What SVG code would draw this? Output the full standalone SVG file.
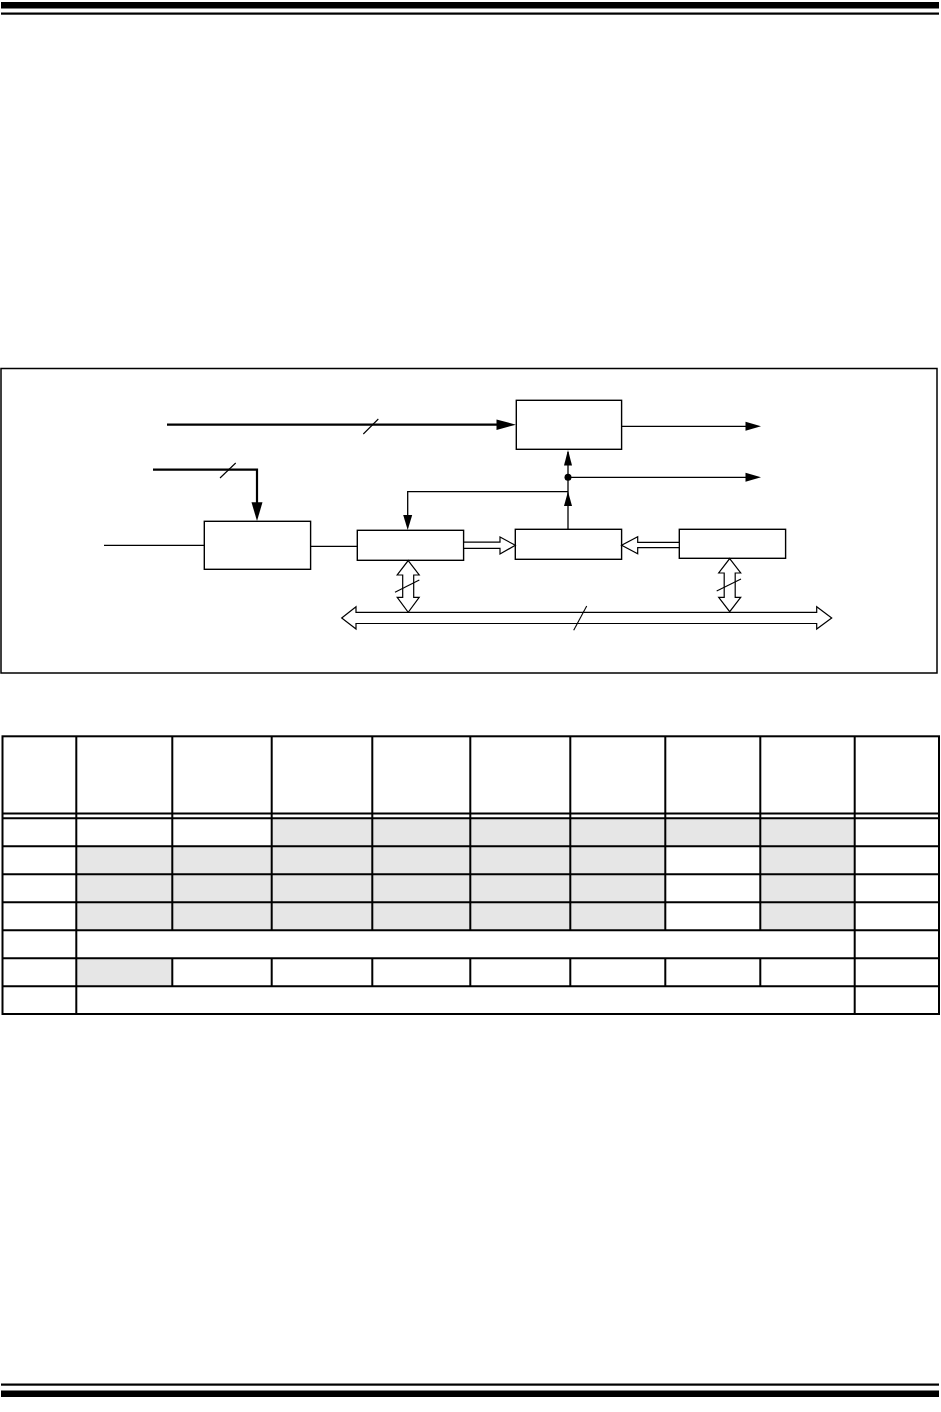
<svg xmlns="http://www.w3.org/2000/svg" width="941" height="1412" viewBox="0 0 941 1412">
<style>
.box{fill:#fff;stroke:#000;stroke-width:1.4}
.ln{fill:none;stroke:#000;stroke-width:1.3}
.thick{fill:none;stroke:#000;stroke-width:2.2}
.hol{fill:#fff;stroke:#000;stroke-width:1.2;stroke-linejoin:miter}
.sl{stroke:#000;stroke-width:1.1}
.ah{fill:#000}
.cell{stroke:#000;stroke-width:2;fill:none}
.g{fill:#e6e6e6}
</style>
<rect width="941" height="1412" fill="#fff"/>
<g id="page-rules">
<rect x="1" y="2" width="938" height="6.5" fill="#000"/>
<rect x="1" y="12.5" width="938" height="2.2" fill="#000"/>
<rect x="1" y="1383.5" width="938" height="2.2" fill="#000"/>
<rect x="1" y="1390.5" width="938" height="6.5" fill="#000"/>
</g>
<g id="frame"><rect x="1" y="368.5" width="936" height="304.5" fill="none" stroke="#000" stroke-width="1.5"/></g>
<g id="nodeA"><rect class="box" x="516.3" y="400.3" width="105.3" height="49"/></g>
<g id="nodeB"><rect class="box" x="204.3" y="521.3" width="106.3" height="48"/></g>
<g id="nodeC"><rect class="box" x="357.3" y="530.3" width="106.3" height="30"/></g>
<g id="nodeD"><rect class="box" x="515.3" y="529.3" width="106.3" height="30"/></g>
<g id="nodeE"><rect class="box" x="679.3" y="529.3" width="106.3" height="29"/></g>
<g id="connectors">
<!-- thick bus to A -->
<line class="thick" x1="167" y1="424.7" x2="498" y2="424.7"/>
<polygon class="ah" points="516,424.7 496.5,419.5 496.5,430"/>
<line class="sl" x1="363.3" y1="434" x2="378.3" y2="419"/>
<!-- thick to B -->
<polyline class="thick" points="153,469.7 257,469.7 257,503"/>
<polygon class="ah" points="257,521 251.5,502.3 262.5,502.3"/>
<line class="sl" x1="220" y1="478" x2="235.7" y2="463"/>
<!-- input to B -->
<line class="ln" x1="104" y1="545.3" x2="204.3" y2="545.3"/>
<!-- B to C -->
<line class="ln" x1="310.7" y1="546.3" x2="357.3" y2="546.3"/>
<!-- A output -->
<line class="ln" x1="621.6" y1="426.3" x2="747" y2="426.3"/>
<polygon class="ah" points="761,426.3 745.5,421.8 745.5,430.8"/>
<!-- junction output -->
<line class="ln" x1="568" y1="477.3" x2="747" y2="477.3"/>
<polygon class="ah" points="761,477.3 745.5,472.8 745.5,481.8"/>
<circle cx="568" cy="477.3" r="3.5" fill="#000"/>
<!-- D up to A -->
<line class="ln" x1="568" y1="529.3" x2="568" y2="452"/>
<polygon class="ah" points="568,450 564,465.5 572,465.5"/>
<polygon class="ah" points="568,491.5 564,506 572,506"/>
<!-- feedback to C -->
<polyline class="ln" points="568,491.7 407.7,491.7 407.7,516"/>
<polygon class="ah" points="407.7,530 403.2,515 412.2,515"/>
<!-- hollow C->D -->
<polygon class="hol" points="463.6,542.2 500,542.2 500,537 515.3,545.3 500,554 500,548.3 463.6,548.3"/>
<!-- hollow E->D -->
<polygon class="hol" points="679.3,542.3 637.7,542.3 637.7,536.7 621.6,545.2 637.7,553.7 637.7,547.7 679.3,547.7"/>
<!-- C vertical double -->
<polygon class="hol" points="408.2,560.6 419.2,575 413.7,575 413.7,597.3 419.2,597.3 408.2,612.3 397.2,597.3 402.7,597.3 402.7,575 397.2,575"/>
<line class="sl" x1="395" y1="592.3" x2="419.3" y2="580"/>
<!-- E vertical double -->
<polygon class="hol" points="729.7,558.6 740.7,573 735.2,573 735.2,597.3 740.7,597.3 729.7,611.7 718.7,597.3 724.2,597.3 724.2,573 718.7,573"/>
<line class="sl" x1="716.7" y1="591" x2="741" y2="579"/>
<!-- main bus -->
<polygon class="hol" points="341.7,618 356,606.7 356,612.3 816.7,612.3 816.7,606.7 831.7,618 816.7,629 816.7,623.5 356,623.5 356,629"/>
<line class="sl" x1="573.7" y1="630.3" x2="586.7" y2="606"/>
</g>
<g id="table">
<!-- shaded cells -->
<rect class="g" x="271.7" y="818.3" width="583" height="28"/>
<rect class="g" x="76.3" y="846.3" width="589" height="84"/>
<rect class="g" x="760.3" y="846.3" width="94.4" height="84"/>
<rect class="g" x="76.3" y="958.3" width="96" height="28"/>
<!-- outer border -->
<rect class="cell" x="2.5" y="736.3" width="936.5" height="277.7"/>
<!-- horizontal lines -->
<line class="cell" x1="2.5" y1="813.5" x2="939" y2="813.5"/>
<line class="cell" x1="2.5" y1="818.3" x2="939" y2="818.3"/>
<line class="cell" x1="2.5" y1="846.3" x2="939" y2="846.3"/>
<line class="cell" x1="2.5" y1="874.3" x2="939" y2="874.3"/>
<line class="cell" x1="2.5" y1="902.3" x2="939" y2="902.3"/>
<line class="cell" x1="2.5" y1="930.3" x2="939" y2="930.3"/>
<line class="cell" x1="2.5" y1="958.3" x2="939" y2="958.3"/>
<line class="cell" x1="2.5" y1="986.3" x2="939" y2="986.3"/>
<!-- full-height verticals -->
<line class="cell" x1="76.3" y1="736.3" x2="76.3" y2="1014"/>
<line class="cell" x1="854.7" y1="736.3" x2="854.7" y2="1014"/>
<!-- partial verticals (skip merged rows 930-958, 986-1014) -->
<path class="cell" d="M172.3 736.3V930.3M172.3 958.3V986.3M271.7 736.3V930.3M271.7 958.3V986.3M372.3 736.3V930.3M372.3 958.3V986.3M470.3 736.3V930.3M470.3 958.3V986.3M570.3 736.3V930.3M570.3 958.3V986.3M665.3 736.3V930.3M665.3 958.3V986.3M760.3 736.3V930.3M760.3 958.3V986.3"/>
</g>
</svg>
